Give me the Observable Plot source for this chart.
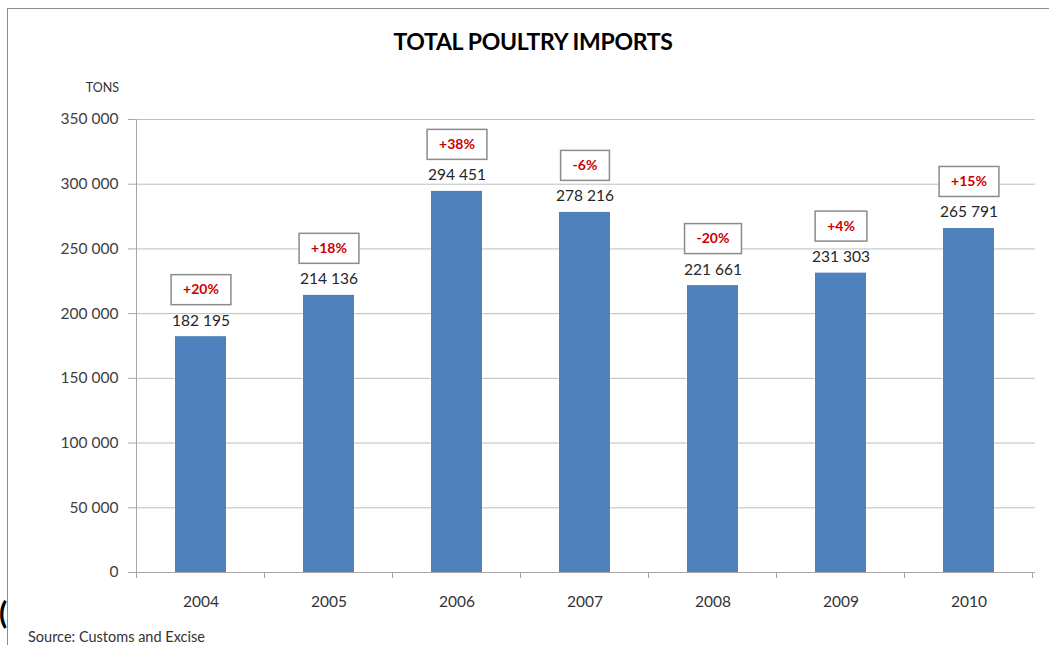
<!DOCTYPE html>
<html><head><meta charset="utf-8">
<script src="https://cdn.jsdelivr.net/npm/d3@7"></script>
<script src="https://cdn.jsdelivr.net/npm/@observablehq/plot@0.6"></script>
<style>
html,body{margin:0;padding:0;background:#fff;}
body{font-family:Lato,"Open Sans",sans-serif;}
#wrap{position:relative;width:1049px;height:645px;overflow:hidden;background:#fff;}
#frame{position:absolute;left:7px;top:8px;width:1100px;height:700px;border-left:1.5px solid #8c8c8c;border-top:1.5px solid #8c8c8c;}
#chart{position:absolute;left:0;top:0;}
#title{position:absolute;top:27px;left:0;width:1066px;text-align:center;font-weight:bold;font-size:23px;line-height:28px;color:#000;letter-spacing:-0.3px;}
#tons{position:absolute;top:80px;left:0;width:119px;text-align:right;font-size:12.5px;line-height:16px;color:#333;}
#source{position:absolute;top:628px;left:28px;font-size:14.5px;line-height:17px;color:#333;}
#paren{position:absolute;top:596px;left:-1px;font-size:30px;font-weight:bold;line-height:32px;color:#000;}
</style>
</head><body>
<div id="wrap">
  <div id="frame"></div>
  <div id="chart"></div>
  <div id="title">TOTAL POULTRY IMPORTS</div>
  <div id="tons">TONS</div>
  <div id="paren">(</div>
  <div id="source">Source: Customs and Excise</div>
</div>
<script>
const years = ["2004", "2005", "2006", "2007", "2008", "2009", "2010"];
const tons = [182195, 214136, 294451, 278216, 221661, 231303, 265791];
const changes = ["+20%", "+18%", "+38%", "-6%", "-20%", "+4%", "+15%"];
const yTicks = [0, 50000, 100000, 150000, 200000, 250000, 300000, 350000];

const rows = years.map((y, i) => ({year: y, tons: tons[i], change: changes[i]}));
const fmt = d => d3.format(",")(d).replace(/,/g, " ");

const W = 1049, H = 645, mL = 135, mR = 14, mT = 119, mB = 73;
const font = "Lato, 'Open Sans', sans-serif";

const chart = Plot.plot({
  width: W, height: H,
  marginLeft: mL, marginRight: mR, marginTop: mT, marginBottom: mB,
  style: {fontFamily: font, background: "transparent", overflow: "visible"},
  x: {domain: years, paddingInner: 0.6, paddingOuter: 0.3, label: null},
  y: {domain: [0, 350000], label: null},
  marks: [
    Plot.gridY(yTicks, {stroke: "#bfbfbf", strokeOpacity: 1}),
    Plot.axisY(yTicks, {tickFormat: fmt, tickSize: 7, tickPadding: 10, fontSize: 15.5, fill: "#404040", stroke: "#a6a6a6", label: null}),
    Plot.axisX({tickSize: 0, tickPadding: 23, fontSize: 15.5, fill: "#333", label: null}),
    Plot.barY(rows, {x: "year", y: "tons", fill: "#4F81BD"}),
    Plot.ruleY([0], {stroke: "#a6a6a6"}),
    Plot.text(rows, {x: "year", y: "tons", text: d => fmt(d.tons), dy: -16, fontSize: 15.5, fill: "#262626"}),
    Plot.text(rows, {x: "year", y: "tons", text: "change", dy: -47, fontSize: 14, fontWeight: "bold", fill: "#cc0000"})
  ]
});
document.getElementById("chart").appendChild(chart);

// Post-process: boxes behind percentage labels, y-axis line, boundary ticks
const svg = chart.tagName.toLowerCase() === "svg" ? chart : chart.querySelector("svg");
const svgRect = svg.getBoundingClientRect();
const ns = "http://www.w3.org/2000/svg";
const pctTexts = Array.from(svg.querySelectorAll("text")).filter(t => /%$/.test(t.textContent.trim()));
if (pctTexts.length) {
  let top = pctTexts[0];
  while (top.parentNode !== svg) top = top.parentNode;
  const boxG = document.createElementNS(ns, "g");
  pctTexts.forEach(t => {
    const r = t.getBoundingClientRect();
    const cx = r.left - svgRect.left + r.width / 2;
    const cy = r.top - svgRect.top + r.height / 2;
    const w = r.width + 24, h = 30;
    const rect = document.createElementNS(ns, "rect");
    rect.setAttribute("x", cx - w / 2);
    rect.setAttribute("y", cy - h / 2 + 1);
    rect.setAttribute("width", w);
    rect.setAttribute("height", h);
    rect.setAttribute("fill", "#fff");
    rect.setAttribute("stroke", "#8c8c8c");
    rect.setAttribute("stroke-width", 1.5);
    boxG.appendChild(rect);
  });
  svg.insertBefore(boxG, top);
}

const xs = chart.scale("x"), ys = chart.scale("y");
const step = xs.apply(years[1]) - xs.apply(years[0]);
const c0 = xs.apply(years[0]) + xs.bandwidth / 2;
const y0 = ys.apply(0), yTop = ys.apply(350000);
const lineG = d3.select(svg).append("g").attr("stroke", "#a6a6a6").attr("stroke-width", 1);
lineG.append("line").attr("x1", c0 - step / 2).attr("x2", c0 - step / 2).attr("y1", yTop).attr("y2", y0);
for (let k = 0; k <= years.length; k++) {
  const x = c0 - step / 2 + k * step;
  lineG.append("line").attr("x1", x).attr("x2", x).attr("y1", y0).attr("y2", y0 + 6);
}
</script>
</body></html>
